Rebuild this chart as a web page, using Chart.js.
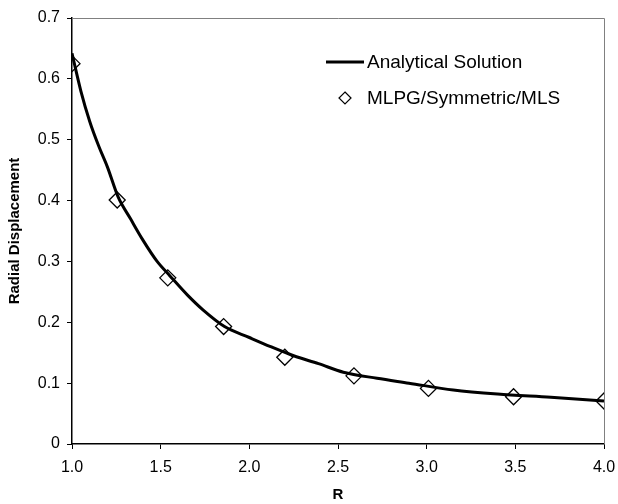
<!DOCTYPE html>
<html>
<head>
<meta charset="utf-8">
<script src="https://cdn.jsdelivr.net/npm/chart.js@4/dist/chart.umd.min.js"></script>
<style>
  html, body { margin: 0; padding: 0; background: #fff; }
  #wrap { width: 618px; height: 504px; }
</style>
</head>
<body>
<div id="wrap"><canvas id="c" width="618" height="504"></canvas></div>
<script>
// Analytical Solution curve
const analyticR = [1.0, 1.05, 1.10, 1.15, 1.20, 1.26, 1.33, 1.40, 1.48, 1.55, 1.65, 1.74, 1.86, 2.0, 2.12, 2.25, 2.39, 2.53, 2.72, 2.9, 3.15, 3.4, 3.7, 4.0];
const analyticU = [0.642, 0.58, 0.53, 0.49, 0.455, 0.406, 0.37, 0.335, 0.300, 0.277, 0.245, 0.220, 0.193, 0.175, 0.160, 0.145, 0.132, 0.118, 0.108, 0.100, 0.0887, 0.082, 0.0767, 0.0707];
// MLPG/Symmetric/MLS points
const mlpgR = [1.0, 1.255, 1.54, 1.855, 2.20, 2.59, 3.01, 3.49, 4.0];
const mlpgU = [0.625, 0.401, 0.273, 0.193, 0.1425, 0.112, 0.0914, 0.0777, 0.0707];
// Axis ticks
const xTicks = [1.0, 1.5, 2.0, 2.5, 3.0, 3.5, 4.0];
const yTicks = [0, 0.1, 0.2, 0.3, 0.4, 0.5, 0.6, 0.7];
const seriesNames = ['Analytical Solution', 'MLPG/Symmetric/MLS'];

const FONT = 'Arial, "Liberation Sans", sans-serif';

const frameAndLegend = {
  id: 'frameAndLegend',
  afterDatasetsDraw(chart) {
    const ctx = chart.ctx, a = chart.chartArea;
    ctx.save();
    ctx.strokeStyle = '#808080';
    ctx.lineWidth = 1;
    ctx.beginPath();
    ctx.moveTo(a.left, a.top + 0.5);
    ctx.lineTo(a.right + 0.5, a.top + 0.5);
    ctx.lineTo(a.right + 0.5, a.bottom);
    ctx.stroke();
    // legend
    ctx.font = '19px ' + FONT;
    ctx.fillStyle = '#000';
    ctx.textBaseline = 'middle';
    ctx.textAlign = 'left';
    ctx.strokeStyle = '#000';
    ctx.lineWidth = 3;
    ctx.beginPath();
    ctx.moveTo(326, 62);
    ctx.lineTo(364, 62);
    ctx.stroke();
    ctx.fillText(seriesNames[0], 367, 63);
    ctx.lineWidth = 1.2;
    ctx.beginPath();
    const cx = 345, cy = 98, r = 6;
    ctx.moveTo(cx, cy - r); ctx.lineTo(cx + r, cy); ctx.lineTo(cx, cy + r); ctx.lineTo(cx - r, cy); ctx.closePath();
    ctx.stroke();
    ctx.fillText(seriesNames[1], 367, 99);
    ctx.restore();
  }
};

new Chart(document.getElementById('c'), {
  type: 'scatter',
  data: {
    datasets: [
      {
        label: seriesNames[1],
        data: mlpgR.map((x, i) => ({x, y: mlpgU[i]})),
        showLine: false,
        pointStyle: 'rectRot',
        pointRadius: 8,
        pointBorderWidth: 1.3,
        borderColor: '#000',
        backgroundColor: 'rgba(0,0,0,0)',
        order: 2
      },
      {
        label: seriesNames[0],
        data: analyticR.map((x, i) => ({x, y: analyticU[i]})),
        showLine: true,
        borderColor: '#000',
        borderWidth: 3,
        pointRadius: 0,
        cubicInterpolationMode: 'monotone',
        fill: false,
        order: 1
      }
    ]
  },
  options: {
    responsive: false,
    animation: false,
    devicePixelRatio: 1,
    layout: { padding: { top: 18, right: 14, left: 6, bottom: 0 } },
    plugins: {
      legend: { display: false },
      tooltip: { enabled: false }
    },
    scales: {
      x: {
        type: 'linear',
        min: 1.0, max: 4.0,
        afterFit(s) { s.height = 60; s.paddingRight = 0; s.paddingLeft = 0; },
        afterBuildTicks(s) { s.ticks = xTicks.map(v => ({value: v})); },
        ticks: {
          color: '#000',
          font: { family: FONT, size: 16 },
          padding: 9,
          maxRotation: 0,
          callback: v => Number(v).toFixed(1)
        },
        grid: { drawOnChartArea: false, tickLength: 5, color: '#000', tickColor: '#000' },
        border: { color: '#000', width: 1.5 },
        title: {
          display: true, text: 'R', color: '#000',
          font: { family: FONT, size: 15, weight: 'bold' },
          padding: { top: 2, bottom: 0 }
        }
      },
      y: {
        type: 'linear',
        min: 0, max: 0.7,
        afterFit(s) { s.width = 66; s.paddingTop = 0; s.paddingBottom = 0; },
        afterBuildTicks(s) { s.ticks = yTicks.map(v => ({value: v})); },
        ticks: {
          color: '#000',
          font: { family: FONT, size: 16 },
          padding: 7,
          callback: v => v === 0 ? '0' : Number(v).toFixed(1)
        },
        grid: { drawOnChartArea: false, tickLength: 5, color: '#000', tickColor: '#000' },
        border: { color: '#000', width: 1.5 },
        title: {
          display: true, text: 'Radial Displacement', color: '#000',
          font: { family: FONT, size: 15, weight: 'bold' },
          padding: { top: 0, bottom: 0 }
        }
      }
    }
  },
  plugins: [frameAndLegend]
});
</script>
</body>
</html>
